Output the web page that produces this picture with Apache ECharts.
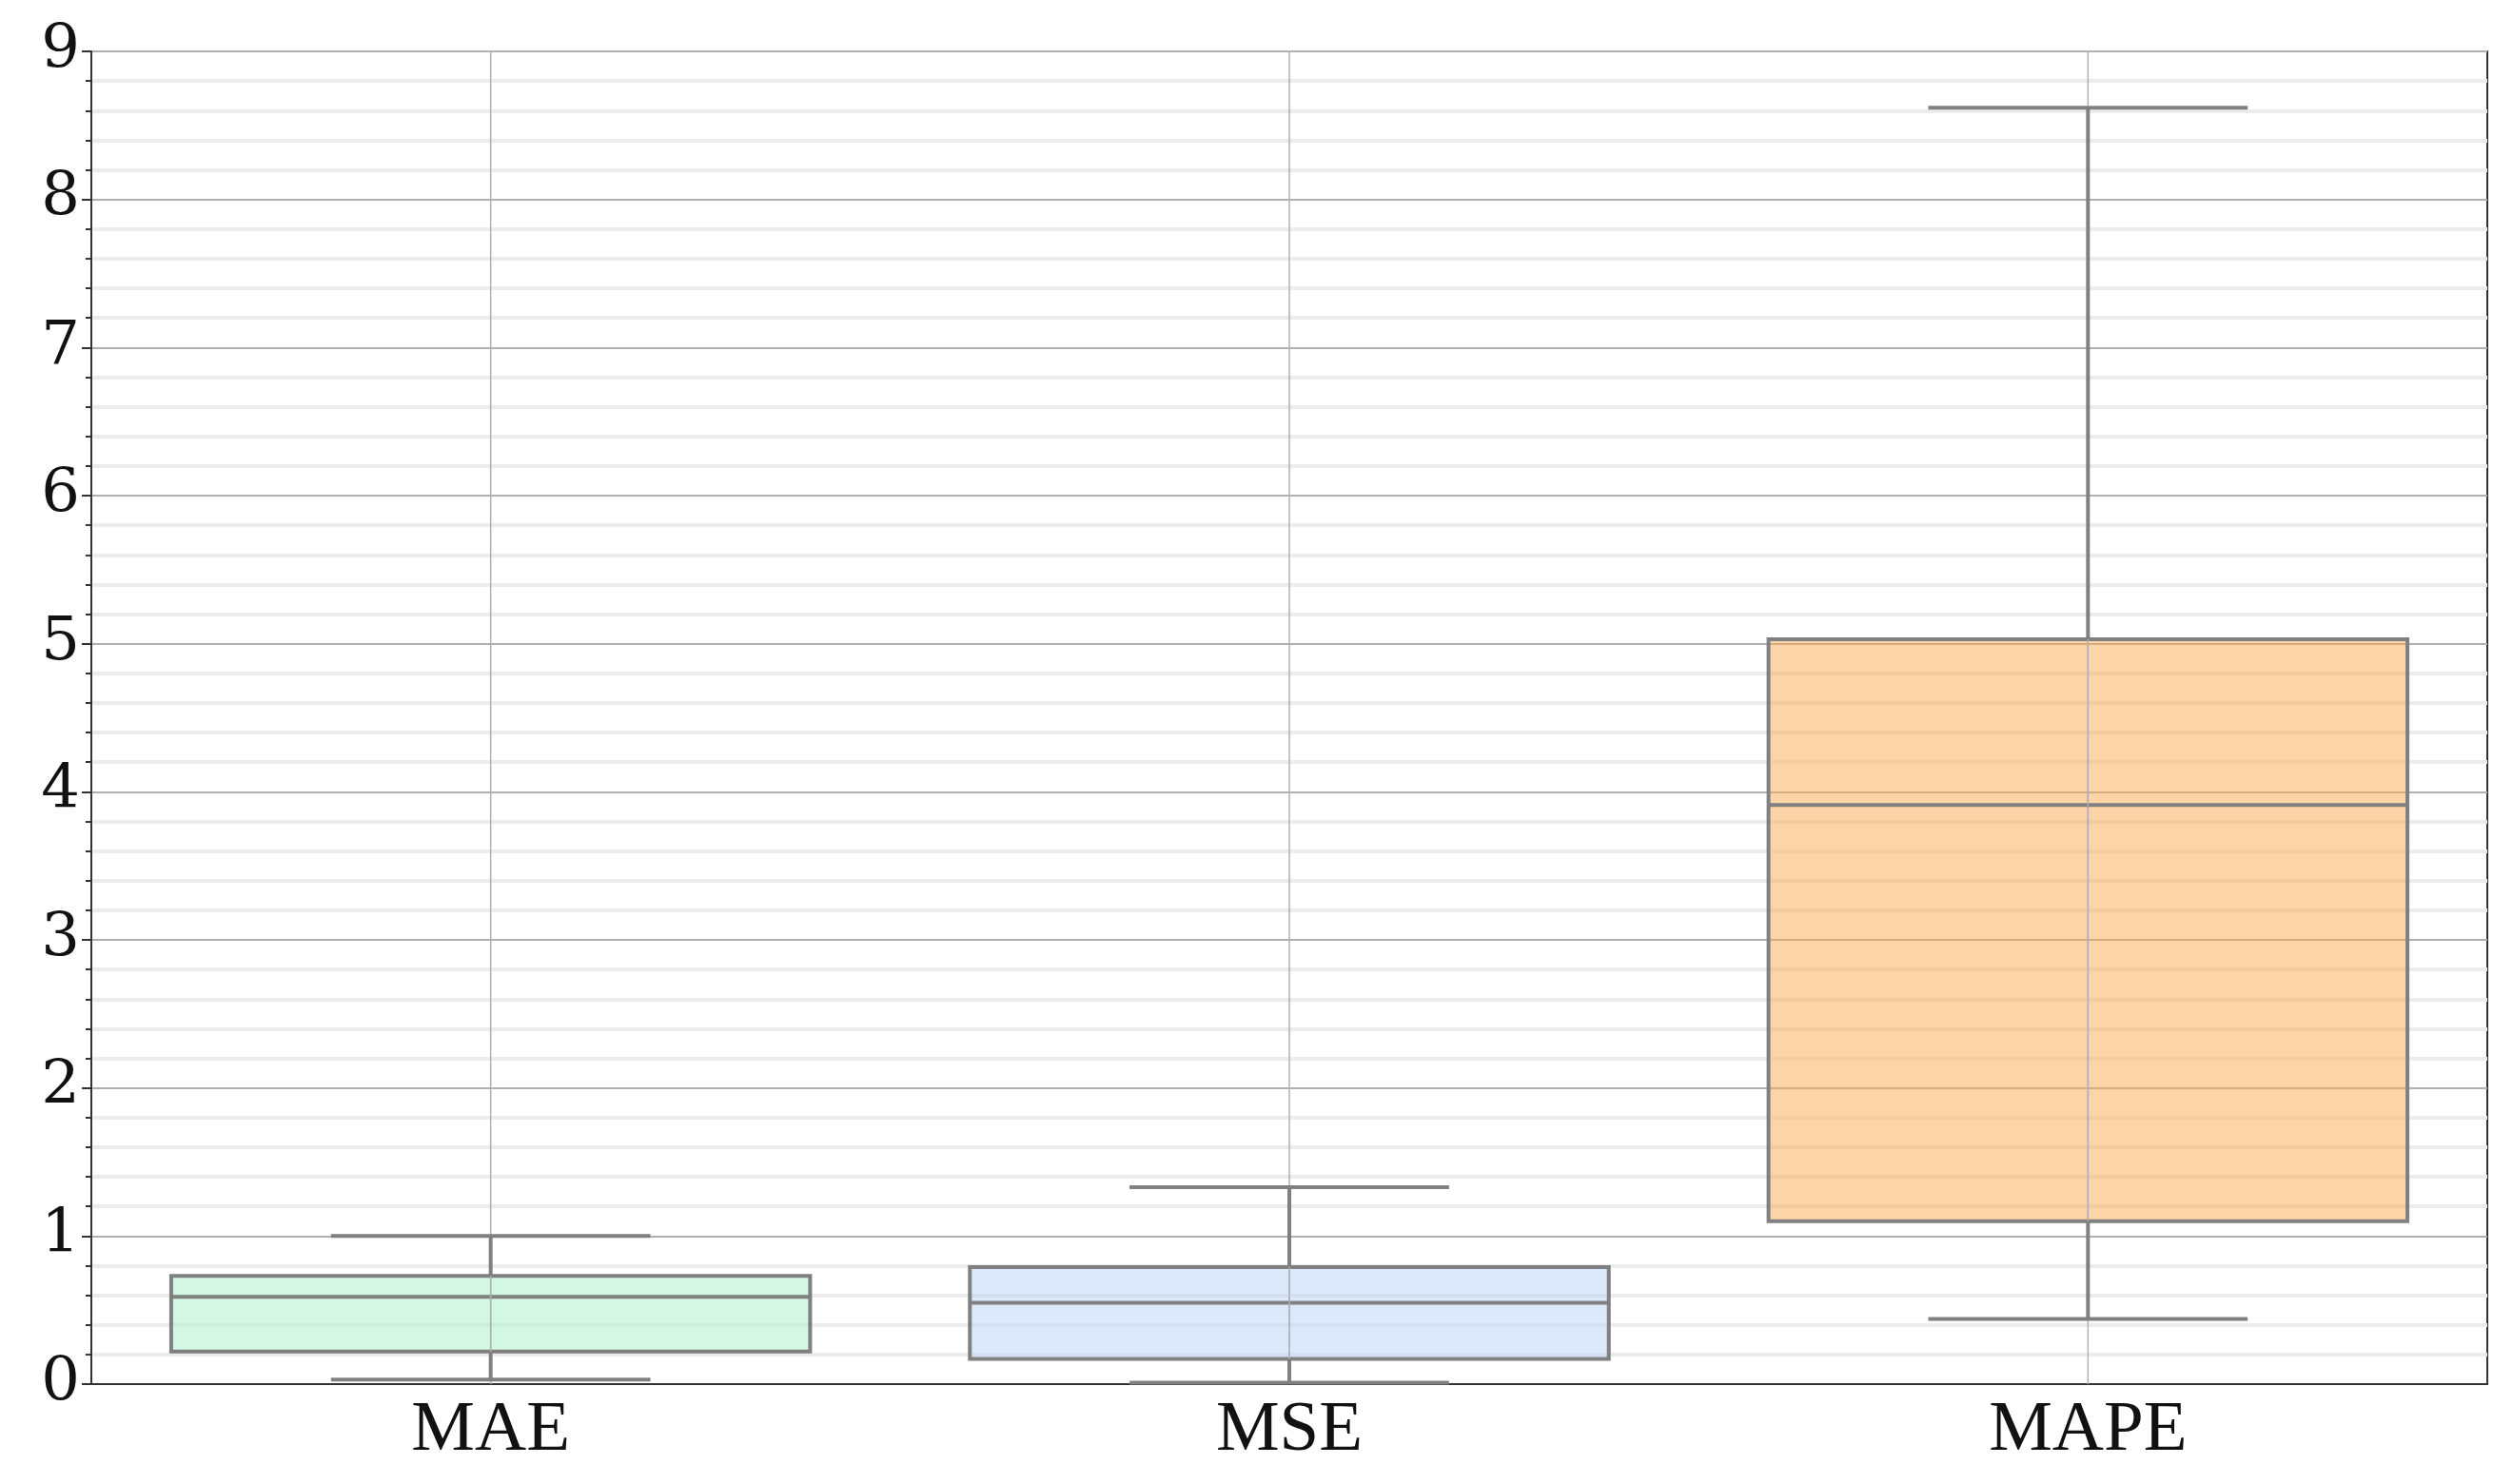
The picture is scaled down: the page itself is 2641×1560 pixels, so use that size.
<!DOCTYPE html>
<html><head><meta charset="utf-8">
<script src="https://cdn.jsdelivr.net/npm/echarts@6/dist/echarts.min.js"></script>
<style>html,body{margin:0;background:#fff}#c{width:2641px;height:1560px}</style>
</head><body><div id="c"></div>
<script>
var categories = ['MAE', 'MSE', 'MAPE'];
// [min, q1, median, q3, max]
var boxValues = [
    [0.03, 0.22, 0.59, 0.73, 1.00],
    [0.01, 0.17, 0.55, 0.79, 1.33],
    [0.44, 1.10, 3.91, 5.03, 8.62]
];
var fills = ['rgba(168,240,197,0.5)', 'rgba(183,211,247,0.5)', 'rgba(251,167,82,0.5)'];

var chart = echarts.init(document.getElementById('c'));
var edge = '#808080';

function renderBox(params, api) {
    var i = api.value(0);
    var lo = api.coord([i, api.value(1)]), q1 = api.coord([i, api.value(2)]),
        md = api.coord([i, api.value(3)]), q3 = api.coord([i, api.value(4)]),
        hi = api.coord([i, api.value(5)]);
    var bw = api.size([1, 0])[0];
    var x = lo[0], half = bw * 0.4, cap = bw * 0.2;
    var top = api.coord([i, 9])[1], bot = api.coord([i, 0])[1];
    var ls = {stroke: edge, lineWidth: 4};
    return {type: 'group', children: [
        {type: 'line', shape: {x1: x, y1: top, x2: x, y2: bot}, style: {stroke: '#b0b0b0', lineWidth: 1.5}, z2: 1},
        {type: 'line', shape: {x1: x, y1: lo[1], x2: x, y2: q1[1]}, style: ls, z2: 2},
        {type: 'line', shape: {x1: x, y1: q3[1], x2: x, y2: hi[1]}, style: ls, z2: 2},
        {type: 'line', shape: {x1: x - cap, y1: lo[1], x2: x + cap, y2: lo[1]}, style: ls, z2: 2},
        {type: 'line', shape: {x1: x - cap, y1: hi[1], x2: x + cap, y2: hi[1]}, style: ls, z2: 2},
        {type: 'rect', shape: {x: x - half, y: q3[1], width: half * 2, height: q1[1] - q3[1]},
         style: {fill: fills[i], stroke: edge, lineWidth: 4}, z2: 3},
        {type: 'line', shape: {x1: x - half, y1: md[1], x2: x + half, y2: md[1]}, style: ls, z2: 4},
        {type: 'line', shape: {x1: x, y1: q1[1], x2: x, y2: q3[1]}, style: {stroke: '#b0b0b0', lineWidth: 1.5}, z2: 4}
    ]};
}

chart.setOption({
    animation: false,
    grid: {left: 96, right: 27, top: 54, bottom: 105, show: true, borderColor: '#333', borderWidth: 2},
    xAxis: {
        type: 'category', data: categories,
        axisLine: {lineStyle: {color: '#333', width: 2}},
        axisTick: {alignWithLabel: true, length: 12, lineStyle: {color: '#333', width: 2}},
        axisLabel: {fontFamily: 'Liberation Serif', fontSize: 75, color: '#111', margin: 12},
        splitLine: {show: false}
    },
    yAxis: {
        type: 'value', min: 0, max: 9, interval: 1,
        axisLine: {show: true, lineStyle: {color: '#333', width: 2}},
        axisTick: {show: true, length: 10, lineStyle: {color: '#333', width: 2}},
        minorTick: {show: true, splitNumber: 5, length: 6, lineStyle: {color: '#333', width: 2}},
        axisLabel: {fontFamily: 'DejaVu Serif', fontSize: 64, color: '#111', margin: 12},
        splitLine: {lineStyle: {color: '#b0b0b0', width: 2}},
        minorSplitLine: {show: true, lineStyle: {color: '#ececec', width: 4}}
    },
    series: [{
        type: 'custom',
        renderItem: renderBox,
        data: boxValues.map(function (b, i) { return [i].concat(b); })
    }]
});
</script></body></html>
